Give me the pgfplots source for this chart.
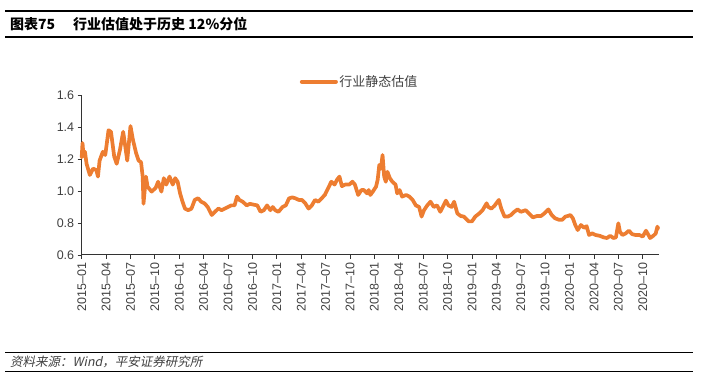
\documentclass[border=0pt]{standalone}
\usepackage{fontspec}
\usepackage{pgfplots}
\pgfplotsset{compat=1.18}
\setmainfont{Liberation Sans}
\newfontfamily\cjk{Noto Sans CJK SC}
\newfontfamily\cjkit[FakeSlant=0.2]{Noto Sans CJK SC}
\definecolor{lineorange}{HTML}{ED7D31}
\definecolor{txtgrey}{HTML}{404040}

\pgfplotstableread{
m v
0.0 1.21
0.1 1.30
0.2 1.235
0.4 1.245
0.6 1.17
1.0 1.10
1.4 1.14
1.8 1.13
2.0 1.09
2.2 1.19
2.6 1.245
2.9 1.225
3.3 1.38
3.6 1.37
4.0 1.215
4.3 1.17
4.7 1.256
5.1 1.37
5.3 1.30
5.6 1.19
6.0 1.406
6.3 1.32
6.7 1.235
7.0 1.19
7.3 1.18
7.5 1.09
7.6 0.92
7.9 1.09
8.1 1.027
8.6 0.996
9.1 1.02
9.4 1.058
9.8 0.996
10.1 1.08
10.4 1.04
10.8 1.09
11.2 1.04
11.5 1.08
11.8 1.058
12.1 0.985
12.4 0.933
12.7 0.89
13.1 0.88
13.5 0.89
13.9 0.944
14.3 0.955
14.7 0.933
15.1 0.923
15.5 0.90
16.0 0.85
16.4 0.87
16.8 0.89
17.2 0.88
17.6 0.89
18.0 0.90
18.4 0.91
18.8 0.91
19.1 0.965
19.4 0.944
19.8 0.933
20.3 0.91
20.7 0.92
21.1 0.915
21.6 0.91
22.0 0.87
22.4 0.88
22.8 0.91
23.2 0.88
23.5 0.90
23.8 0.88
24.2 0.87
24.7 0.90
25.1 0.91
25.5 0.954
25.9 0.96
26.3 0.954
26.7 0.944
27.1 0.944
27.5 0.923
27.9 0.89
28.3 0.91
28.7 0.944
29.1 0.933
29.5 0.954
29.9 0.975
30.3 1.017
30.7 1.058
31.1 1.04
31.4 1.07
31.7 1.09
32.0 1.03
32.4 1.04
32.9 1.04
33.3 1.058
33.6 1.04
34.0 0.975
34.4 1.006
34.7 1.006
35.1 0.985
35.3 1.006
35.5 0.975
35.8 0.996
36.2 1.027
36.4 1.07
36.6 1.1625
36.8 1.14
37.0 1.225
37.2 1.09
37.4 1.058
37.6 1.12
37.9 1.08
38.2 1.058
38.6 1.04
38.8 0.985
39.1 1.006
39.4 0.965
39.9 0.975
40.3 0.965
40.7 0.944
41.1 0.91
41.5 0.90
41.8 0.84
42.1 0.88
42.5 0.91
42.9 0.933
43.3 0.90
43.7 0.91
44.1 0.87
44.5 0.91
44.8 0.94
45.1 0.91
45.5 0.90
45.8 0.933
46.2 0.86
46.6 0.844
47.0 0.84
47.4 0.82
47.6 0.81
48.0 0.81
48.4 0.84
48.9 0.86
49.3 0.88
49.8 0.923
50.0 0.90
50.4 0.89
50.8 0.91
51.3 0.944
51.6 0.89
52.0 0.84
52.4 0.84
52.8 0.85
53.2 0.87
53.6 0.885
54.0 0.87
54.6 0.88
55.0 0.86
55.5 0.835
56.0 0.844
56.5 0.844
56.9 0.86
57.4 0.885
57.8 0.85
58.2 0.83
58.7 0.82
59.1 0.82
59.5 0.84
59.8 0.844
60.1 0.85
60.4 0.83
60.7 0.7875
61.0 0.756
61.4 0.7875
61.8 0.77
62.1 0.78
62.4 0.725
62.8 0.735
63.2 0.725
63.7 0.72
64.2 0.71
64.6 0.706
65.0 0.72
65.4 0.706
65.7 0.71
66.0 0.798
66.2 0.745
66.5 0.725
66.9 0.735
67.3 0.752
67.7 0.73
68.1 0.725
68.6 0.725
69.0 0.715
69.4 0.752
69.7 0.725
69.9 0.706
70.3 0.72
70.6 0.735
70.8 0.777
70.9 0.765
}\valdata

\begin{document}
\begin{tikzpicture}
\path[use as bounding box] (0pt,0pt) rectangle (701pt,379pt);
% title block
\draw[line width=2pt,black] (5pt,368pt) -- (693pt,368pt);
\draw[line width=2pt,black] (5pt,342.3pt) -- (693pt,342.3pt);
\node[anchor=west,inner sep=0pt] at (10pt,355pt) {\cjk\bfseries\fontsize{14}{16}\selectfont 图表75\hspace{18pt}行业估值处于历史 12\%分位};
% footer
\draw[line width=0.8pt,black] (5pt,26.7pt) -- (693pt,26.7pt);
\draw[line width=0.8pt,black] (5pt,8pt) -- (693pt,8pt);
\node[anchor=west,inner sep=0pt,text=txtgrey] at (10pt,17.5pt) {\cjkit\fontsize{12.5}{14}\selectfont 资料来源：Wind，平安证券研究所};

\begin{axis}[
  at={(81.7pt,124pt)}, anchor=south west,
  scale only axis, width=577.3pt, height=160pt,
  xmin=0, xmax=71, ymin=0.6, ymax=1.6,
  axis x line*=bottom, axis y line*=left,
  axis line style={-, black!80, line width=1pt},
  tick style={black!80, line width=0.8pt},
  tick align=outside, major tick length=4pt,
  /pgf/number format/assume math mode=true,
  ytick={0.6,0.8,1.0,1.2,1.4,1.6},
  yticklabel style={/pgf/number format/fixed, /pgf/number format/fixed zerofill, /pgf/number format/precision=1, font=\fontsize{12.5}{14}\selectfont, text=txtgrey},
  xtick={0,3,...,69},
  xticklabels={2015--01,2015--04,2015--07,2015--10,2016--01,2016--04,2016--07,2016--10,2017--01,2017--04,2017--07,2017--10,2018--01,2018--04,2018--07,2018--10,2019--01,2019--04,2019--07,2019--10,2020--01,2020--04,2020--07,2020--10},
  xticklabel style={rotate=90, anchor=east, font=\fontsize{12.5}{14}\selectfont, text=txtgrey},
  legend style={at={(rel axis cs:0.481,1.083)}, anchor=center, draw=none, fill=none, font=\cjk\fontsize{13}{15}\selectfont, text=txtgrey, inner sep=0pt, nodes={inner sep=1.5pt}},
  legend image code/.code={\draw[#1, line width=4pt] (0pt,0pt) -- (34pt,0pt);},
  clip=false,
]
\addplot[color=lineorange, line width=3.7pt, line join=round, line cap=round] table[x=m,y=v] {\valdata};
\addlegendentry{行业静态估值}
\end{axis}
\end{tikzpicture}
\end{document}
